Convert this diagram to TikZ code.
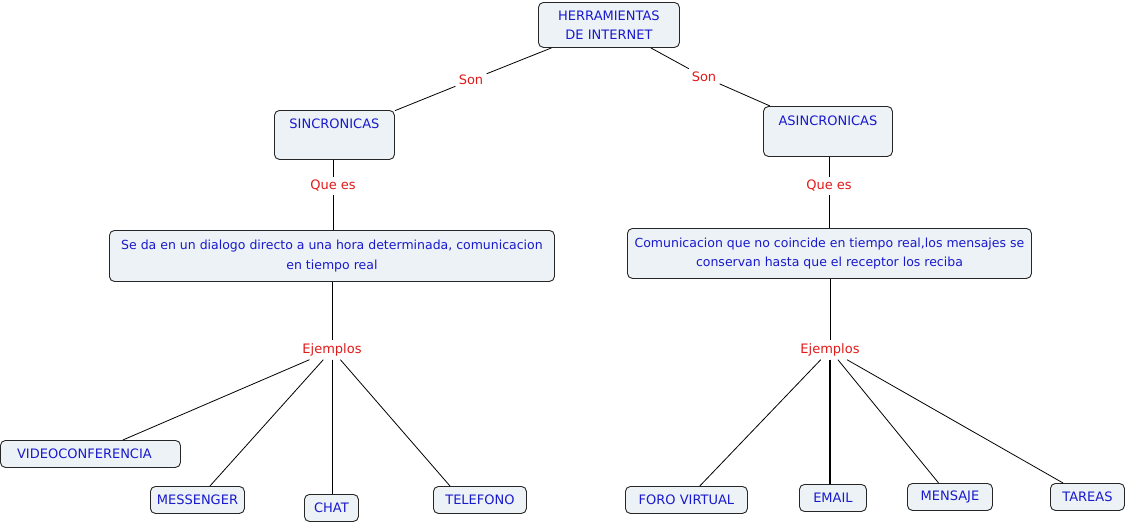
\documentclass[tikz,border=0pt]{standalone}
\usepackage{fontspec}
\setmainfont{DejaVu Sans}
\usetikzlibrary{positioning}
\definecolor{mblue}{RGB}{25,25,205}
\definecolor{mred}{RGB}{225,25,25}
\definecolor{boxfill}{RGB}{236,242,245}
\tikzset{concept/.style = {draw=black!85, fill=boxfill, rounded corners=5pt,
                           text=mblue, font=\fontsize{13}{19.5}\selectfont,
                           align=center, inner sep=0pt, anchor=north west,
                           line width=0.9pt}}
\tikzset{desc/.style = {concept, font=\fontsize{12.5}{19.5}\selectfont}}
\tikzset{linkname/.style = {text=mred, font=\fontsize{13}{15}\selectfont,
                            inner sep=3pt}}
\tikzset{
  every picture/.style={
    every path/.style={line width=0.8pt},
  }
}

\begin{document}
\begin{tikzpicture}[x=1pt, y=-1pt]
        \useasboundingbox (0,0) rectangle (1127,523);
        % concepts
        \node[concept, minimum width=141pt, minimum height=45pt] (herr) at (538,2) {HERRAMIENTAS\\ DE INTERNET};
        \node[concept, minimum width=120pt, text height=18pt, text depth=31pt] (sinc) at (274,110) {SINCRONICAS};
        \node[concept, minimum width=129pt, text height=19pt, text depth=31pt] (asinc) at (763,106) {ASINCRONICAS};
        \node[desc, minimum width=445pt, minimum height=51pt] (dsinc) at (109,230)
          {Se da en un dialogo directo a una hora determinada, comunicacion\\ en tiempo real};
        \node[desc, minimum width=404pt, minimum height=50pt] (dasinc) at (627,228)
          {Comunicacion que no coincide en tiempo real,los mensajes se\\ conservan hasta que el receptor los reciba};
        % examples
        \node[concept, minimum width=180pt, minimum height=27pt] (video) at (0,440) {VIDEOCONFERENCIA\hspace{12pt}};
        \node[concept, minimum width=94pt, minimum height=27pt] (messenger) at (150,486) {MESSENGER};
        \node[concept, minimum width=54pt, minimum height=27pt] (chat) at (304,494) {CHAT};
        \node[concept, minimum width=93pt, minimum height=27pt] (telefono) at (433,486) {TELEFONO};
        \node[concept, minimum width=122pt, minimum height=27pt] (foro) at (625,486) {FORO VIRTUAL};
        \node[concept, minimum width=67pt, minimum height=27pt] (email) at (799,484) {EMAIL};
        \node[concept, minimum width=85pt, minimum height=27pt] (mensaje) at (907,483) {MENSAJE};
        \node[concept, minimum width=74pt, minimum height=27pt] (tareas) at (1050,483) {TAREAS};
        % linking phrases
        \node[linkname] (son1) at (471,80) {Son};
        \node[linkname] (son2) at (704,77) {Son};
        \node[linkname] (que1) at (333,186) {Que es};
        \node[linkname] (que2) at (829,186) {Que es};
        \node[linkname] (ej1) at (332,350) {Ejemplos};
        \node[linkname] (ej2) at (830,350) {Ejemplos};
        % links
        \draw (herr) -- (son1) -- (sinc);
        \draw (herr) -- (son2) -- (asinc);
        \draw (sinc.south -| que1) -- (que1) -- (dsinc.north -| que1);
        \draw (asinc.south -| que2) -- (que2) -- (dasinc.north -| que2);
        \draw (dsinc.south -| ej1) -- (ej1);
        \draw (dasinc.south -| ej2) -- (ej2);
        \draw (ej1) -- (video);
        \draw (ej1) -- (messenger);
        \draw (ej1) -- (chat.north -| ej1);
        \draw (ej1) -- ([xshift=17pt]telefono.north west);
        \draw (ej2) -- (foro);
        \draw[line width=1.6pt] (ej2) -- (email.north -| ej2);
        \draw (ej2) -- (mensaje);
        \draw (ej2) -- (tareas);
      \end{tikzpicture}
\end{document}
